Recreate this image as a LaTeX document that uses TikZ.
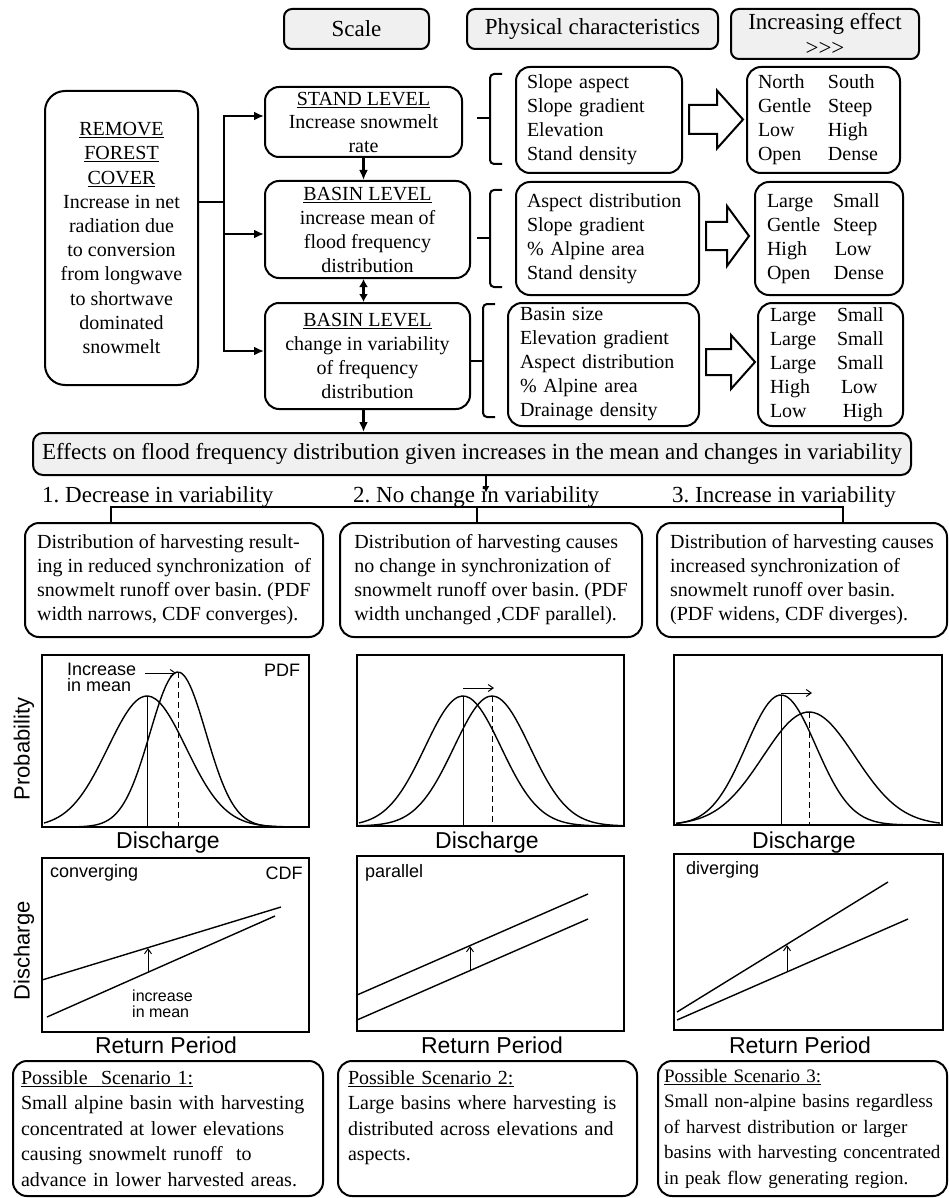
\documentclass[tikz,border=0pt]{standalone}
\usepackage{fontspec}
\setmainfont{Liberation Serif}
\setsansfont{Liberation Sans}
\usetikzlibrary{arrows.meta}
\usetikzlibrary{positioning}

\begin{document}
\begin{tikzpicture}[x = 1pt, y = -1pt,
	box/.style = {draw = black, line width = 2pt, rounded corners = 14pt, align = center, inner sep = 0pt, font = \fontsize{20}{24}\selectfont},
	heading/.style = {box, fill = black!6, rounded corners = 8pt, font = \fontsize{23}{26}\selectfont},
	listbox/.style = {box, align = left, inner ysep = 0pt},
	link/.style = {line width = 2.4pt, -{Latex[length = 10pt, width = 9pt]}},
	plotbox/.style = {draw = black, line width = 1.8pt},
	pdfcurve/.style = {line width = 1.4pt, smooth, samples = 70},
	meanline/.style = {line width = 1pt},
	meanarrow/.style = {line width = 1pt, -{Straight Barb[length = 5pt, width = 7pt]}},
	bracket/.style = {line width = 2pt, rounded corners = 4pt},
	blockarrow/.style = {line width = 2pt, line join = miter},
	axislabel/.style = {inner sep = 0pt, font = \sffamily\fontsize{23}{25}\selectfont},
	plottag/.style = {inner sep = 0pt, align = left, font = \sffamily\fontsize{18}{16}\selectfont}]

	\useasboundingbox (0, 0) rectangle (949, 1198);

	\node [heading, minimum width = 145pt, minimum height = 40pt] (scale) at (356.5, 29) {Scale};
	\node [heading, minimum width = 251pt, minimum height = 40pt] (phys) at (592.5, 29) {Physical characteristics};
	\node [heading, minimum width = 188pt, minimum height = 50pt] (effect) at (825, 34) {Increasing effect\\\mbox{>}\mbox{>}\mbox{>}};

	\node [box, rounded corners = 20pt, minimum width = 153pt, minimum height = 294pt, font = \fontsize{20}{24.2}\selectfont] (remove) at (121.5, 238) {\underline{REMOVE}\\\underline{FOREST}\\\underline{COVER}\\Increase in net\\radiation due\\to conversion\\from longwave\\to shortwave\\dominated\\snowmelt};
	\node [box, minimum width = 197pt, minimum height = 70pt, font = \fontsize{20}{23.5}\selectfont] (stand) at (363.5, 122) {\underline{STAND LEVEL}\\Increase snowmelt\\rate};
	\node [box, minimum width = 205pt, minimum height = 97pt] (basinA) at (367.5, 229.5) {\underline{BASIN LEVEL}\\increase mean of\\flood frequency\\distribution};
	\node [box, minimum width = 205pt, minimum height = 106pt] (basinB) at (367.5, 356) {\underline{BASIN LEVEL}\\change in variability\\of frequency\\distribution};

	\coordinate (jn) at (224, 202);
	\coordinate (jA) at (224, 116);
	\coordinate (jB) at (224, 234);
	\coordinate (jC) at (224, 351);
	\draw [line width = 2.4pt] (remove.east |- jn) -- (jn);
	\draw [link] (jC) |- (jA -| stand.west);
	\draw [link] (jA) |- (jC -| basinB.west);
	\draw [link] (jB) -- (jB -| basinA.west);
	\draw [link] (stand.south) -- (stand.south |- basinA.north);
	\draw [link, {Latex[length = 8pt, width = 9pt]}-{Latex[length = 8pt, width = 9pt]}] (stand.south |- basinA.south) -- (stand.south |- basinB.north);

	\node [listbox, inner xsep = 11pt, text width = 144pt, minimum height = 106pt] (slopeA) at (599, 120) {Slope aspect\\Slope gradient\\Elevation\\Stand density};
	\node [listbox, inner xsep = 11pt, text width = 161pt, minimum height = 113pt] (slopeB) at (607.5, 238.5) {Aspect distribution\\Slope gradient\\\% Alpine area\\Stand density};
	\node [listbox, inner xsep = 12pt, text width = 167pt, minimum height = 123pt] (slopeC) at (603.5, 364.5) {Basin size\\Elevation gradient\\Aspect distribution\\\% Alpine area\\Drainage density};

	\node [listbox, inner xsep = 11pt, text width = 131pt, minimum height = 106pt] (trendA) at (823.5, 120) {\makebox[70pt][l]{North}South\\\makebox[70pt][l]{Gentle}Steep\\\makebox[70pt][l]{Low}High\\\makebox[70pt][l]{Open}Dense};
	\node [listbox, inner xsep = 12pt, text width = 124pt, minimum height = 113pt] (trendB) at (829, 238.5) {\makebox[66pt][l]{Large}Small\\\makebox[66pt][l]{Gentle}Steep\\\makebox[68pt][l]{High}Low\\\makebox[67pt][l]{Open}Dense};
	\node [listbox, inner xsep = 12pt, text width = 121pt, minimum height = 123pt] (trendC) at (830.5, 364.5) {\makebox[67pt][l]{Large}Small\\\makebox[67pt][l]{Large}Small\\\makebox[67pt][l]{Large}Small\\\makebox[71pt][l]{High}Low\\\makebox[73pt][l]{Low}High};

	\draw [bracket] (502, 74) -- (490, 74) -- (490, 164) -- (502, 164);
	\draw [bracket] (477, 118) -- (490, 118);
	\draw [bracket] (502, 190) -- (490, 190) -- (490, 287) -- (502, 287);
	\draw [bracket] (477, 238) -- (490, 238);
	\draw [bracket] (495, 304) -- (483, 304) -- (483, 417) -- (495, 417);
	\draw [bracket] (basinB.east |- 0, 361) -- (483, 361);

	\foreach \xa/\xb/\xc/\ym/\sh/\hd in {689/717/743/119.5/14.5/29, 706/727/749/236/14/30, 706/731/755/362/13/27}
		\draw [blockarrow] (\xa, {\ym-\sh}) -- (\xb, {\ym-\sh}) -- (\xb, {\ym-\hd}) -- (\xc, \ym) -- (\xb, {\ym+\hd}) -- (\xb, {\ym+\sh}) -- (\xa, {\ym+\sh}) -- cycle;

	\node [heading, rounded corners = 10pt, minimum width = 878pt, minimum height = 42pt] (effects) at (472, 454) {Effects on flood frequency distribution given increases in the mean and changes in variability};
	\draw [link] (stand.south |- basinB.south) -- (stand.south |- effects.north);
	\coordinate (split) at (486, 493);
	\draw [line width = 1.8pt, -{Latex[length = 7pt, width = 7pt]}] (effects.south -| split) -- (split);

	\node [anchor = west, inner sep = 0pt, font = \fontsize{23}{26}\selectfont] (decr) at (42, 497) {1.\ Decrease in variability};
	\node [anchor = west, inner sep = 0pt, font = \fontsize{23}{26}\selectfont] (nochg) at (353, 497) {2.\ No change in variability};
	\node [anchor = west, inner sep = 0pt, font = \fontsize{23}{26}\selectfont] (incr) at (672, 497) {3.\ Increase in variability};

	\node [box, align = left, minimum width = 298pt, minimum height = 114pt] (syncA) at (174, 580) {Distribution of harvesting result-\\ing in reduced synchronization\ \ of\\snowmelt runoff over basin.\ (PDF\\width narrows, CDF converges).};
	\node [box, align = left, minimum width = 302pt, minimum height = 114pt] (syncB) at (491, 580) {Distribution of harvesting causes\\no change in synchronization of\\snowmelt runoff over basin.\ (PDF\\width unchanged ,CDF parallel).};
	\node [box, align = left, minimum width = 290pt, minimum height = 114pt] (syncC) at (802, 580) {Distribution of harvesting causes\\increased synchronization of\\snowmelt runoff over basin.\\(PDF widens, CDF diverges).};

	\coordinate (tA) at (111, 507);
	\coordinate (tB) at (477, 507);
	\coordinate (tC) at (843, 507);
	\draw [line width = 2.4pt] (tA |- syncA.north) -- (tA) -- (tC) -- (tC |- syncC.north);
	\draw [line width = 2.4pt] (tB) -- (tB |- syncB.north);

	\draw [plotbox] (42, 655) rectangle (309, 827);
	\draw [plotbox] (357, 655) rectangle (624, 826);
	\draw [plotbox] (674, 655) rectangle (942, 825);
	\foreach \lo/\hi/\mn/\sd/\pk/\bs in {44/292/147/39/131/827, 44/292/178/28/155/827, 359/622/463/38/130/826, 359/622/492/38/130/826, 676/940/781/35/130/825, 676/940/809/46/113/825}
		\draw [pdfcurve, domain = \lo:\hi] plot (\x, {\bs - \pk*exp(-0.5*((\x-\mn)/\sd)^2)});
	\draw [meanline] (147, 696) -- (147, 827);
	\draw [meanline, dash pattern = on 6pt off 4pt] (178, 672) -- (178, 827);
	\draw [meanline] (463, 696) -- (463, 826);
	\draw [meanline, dash pattern = on 6pt off 4pt] (492, 696) -- (492, 826);
	\draw [meanline] (781, 695) -- (781, 825);
	\draw [meanline, dash pattern = on 6pt off 4pt] (809, 712) -- (809, 825);
	\draw [meanarrow] (145, 673) -- (176, 673);
	\draw [meanarrow] (463, 688) -- (494, 688);
	\draw [meanarrow] (781, 693) -- (812, 693);
	\node [plottag, anchor = west] (incA) at (67, 677) {Increase\\in mean};
	\node [plottag] (pdf) at (282, 670) {PDF};

	\node [axislabel] (dischA) at (168, 843) {Discharge};
	\node [axislabel] (dischB) at (487, 843) {Discharge};
	\node [axislabel] (dischC) at (804, 843) {Discharge};
	\node [axislabel, rotate = 90, font = \sffamily\fontsize{22}{24}\selectfont] (prob) at (24, 749) {Probability};
	\node [axislabel, rotate = 90, font = \sffamily\fontsize{22}{24}\selectfont] (disch) at (24, 951) {Discharge};

	\draw [plotbox] (42, 858) rectangle (309, 1032);
	\draw [plotbox] (357, 856) rectangle (624, 1031);
	\draw [plotbox] (674, 854) rectangle (943, 1030);
	\draw [meanline, line width = 1.4pt] (42, 980) -- (281, 907);
	\draw [meanline, line width = 1.4pt] (47, 1017) -- (275, 916);
	\draw [meanline, line width = 1.4pt] (357, 995) -- (588, 894);
	\draw [meanline, line width = 1.4pt] (357, 1020) -- (588, 919);
	\draw [meanline, line width = 1.4pt] (677, 1012) -- (888, 882);
	\draw [meanline, line width = 1.4pt] (677, 1020) -- (908, 919);
	\draw [meanarrow] (148, 972) -- (148, 948);
	\draw [meanarrow] (470, 971) -- (470, 946);
	\draw [meanarrow] (787, 972) -- (787, 945);
	\node [plottag, anchor = west] (conv) at (50, 873) {converging};
	\node [plottag] (cdf) at (284, 873) {CDF};
	\node [plottag, anchor = west] (para) at (365, 873) {parallel};
	\node [plottag, anchor = west] (div) at (686, 870) {diverging};
	\node [plottag, anchor = west, font = \sffamily\fontsize{16}{16}\selectfont] (incB) at (132, 1004) {increase\\in mean};

	\node [axislabel] (retA) at (166, 1045) {Return Period};
	\node [axislabel] (retB) at (492, 1045) {Return Period};
	\node [axislabel] (retC) at (800, 1045) {Return Period};

	\node [listbox, inner xsep = 8pt, text width = 294pt, minimum height = 135pt, font = \fontsize{20}{25.5}\selectfont] (scenA) at (168, 1128.5) {\underline{Possible\ \ Scenario 1:}\\\mbox{Small alpine basin with harvesting}\\\mbox{concentrated at lower elevations}\\\mbox{causing snowmelt runoff\ \ to}\\\mbox{advance in lower harvested areas.}};
	\node [listbox, inner xsep = 10pt, text width = 279pt, minimum height = 135pt, font = \fontsize{20}{25.5}\selectfont] (scenB) at (487.5, 1128.5) {\underline{Possible Scenario 2:}\\\mbox{Large basins where harvesting is}\\\mbox{distributed across elevations and}\\aspects.\\\mbox{}};
	\node [listbox, inner xsep = 6pt, text width = 277pt, minimum height = 135pt, font = \fontsize{19}{25.5}\selectfont] (scenC) at (802.5, 1128.5) {\underline{Possible Scenario 3:}\\\mbox{Small non-alpine basins regardless}\\\mbox{of harvest distribution or larger}\\\mbox{basins with harvesting concentrated}\\\mbox{in peak flow generating region.}};
\end{tikzpicture}
\end{document}
